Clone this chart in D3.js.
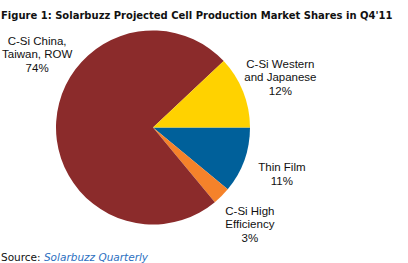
<!DOCTYPE html>
<html>
<head>
<meta charset="utf-8">
<script src="https://cdn.jsdelivr.net/npm/d3@7"></script>
<style>
  body { margin: 0; background: #fff; }
</style>
</head>
<body>
<div id="chart"></div>
<script>
// slices in drawing order, clockwise from 3 o'clock
const categories = ["Thin Film", "C-Si High Efficiency", "C-Si China, Taiwan, ROW", "C-Si Western and Japanese"];
const shares = [11, 3, 74, 12];
const labelLines = [
  ["Thin Film"],
  ["C-Si High", "Efficiency"],
  ["C-Si China,", "Taiwan, ROW"],
  ["C-Si Western", "and Japanese"]
];
const colors = ["#00609a", "#f5822a", "#8b2b2b", "#ffd200"];

const width = 408, height = 263;
const cx = 153, cy = 127.5, radius = 97;

const svg = d3.select("#chart")
  .append("svg")
  .attr("width", width)
  .attr("height", height);

// title, sized so it spans the same width as the original
const title = svg.append("text")
  .attr("x", 1)
  .attr("y", 19)
  .style("font-family", "DejaVu Sans")
  .style("font-weight", "700")
  .style("font-size", "10px")
  .attr("fill", "#111")
  .text("Figure 1: Solarbuzz Projected Cell Production Market Shares in Q4'11");
const tw = title.node().getComputedTextLength();
title.style("font-size", (10 * 392 / tw).toFixed(2) + "px");

const pie = d3.pie()
  .sort(null)
  .startAngle(Math.PI / 2)
  .endAngle(Math.PI / 2 + 2 * Math.PI)
  .value(d => d);

const arcs = pie(shares);
const arc = d3.arc().innerRadius(0).outerRadius(radius);

const g = svg.append("g")
  .attr("transform", "translate(" + cx + "," + cy + ")");

g.selectAll("path")
  .data(arcs)
  .enter()
  .append("path")
  .attr("d", arc)
  .attr("fill", (d, i) => colors[i]);

// labels sit outside the pie, roughly along each slice's middle
const labels = g.selectAll("text.lbl")
  .data(arcs)
  .enter()
  .append("text")
  .attr("class", "lbl")
  .style("font-family", "Liberation Sans, Arial, sans-serif")
  .style("font-size", "11.5px")
  .attr("fill", "#111")
  .attr("text-anchor", "middle")
  .attr("transform", (d, i) => {
    let a = (d.startAngle + d.endAngle) / 2;
    if (i === 2) a += 0.5; // big slice label sits higher on the left
    const p = [Math.sin(a) * 137, -Math.cos(a) * 137];
    const n = labelLines[i].length + 1;
    return "translate(" + p[0] + "," + (p[1] - (n - 1) * 13.5 / 2 + 4) + ")";
  });

labels.each(function (d, i) {
  const t = d3.select(this);
  labelLines[i].concat([shares[i] + "%"]).forEach((s, k) => {
    t.append("tspan").attr("x", 0).attr("dy", k === 0 ? 0 : 13.5).text(s);
  });
});

// source line
const src = svg.append("text")
  .attr("x", 1)
  .attr("y", 261)
  .style("font-family", "DejaVu Sans")
  .style("font-size", "10.5px");
src.append("tspan").attr("fill", "#111").text("Source: ");
src.append("tspan").attr("fill", "#2c6fbf").style("font-style", "italic").text("Solarbuzz Quarterly");
</script>
</body>
</html>
